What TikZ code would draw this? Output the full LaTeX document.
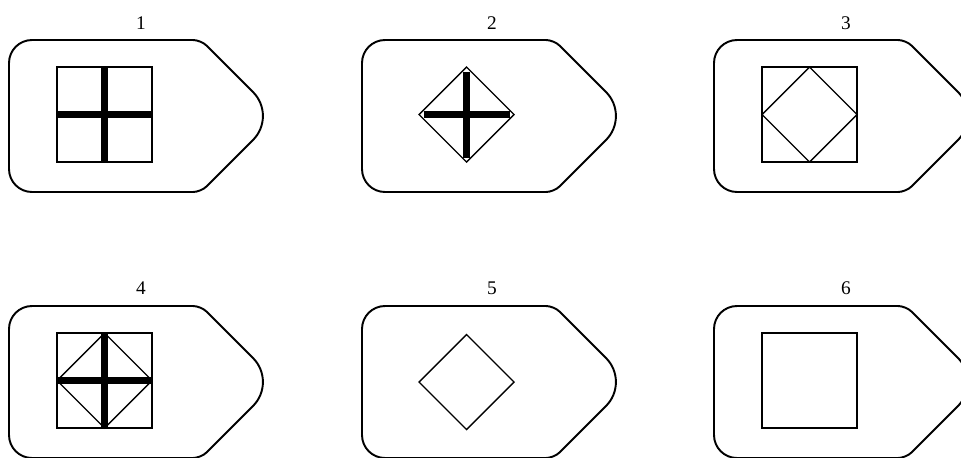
\documentclass[tikz,border=0pt]{standalone}
\usepackage{fontspec}
\setmainfont{Liberation Serif}
\usetikzlibrary{positioning}

\tikzset{
  tagline/.style={line width=1.1pt, line join=round},
  thinline/.style={line width=0.8pt},
  crossline/.style={line width=4pt},
  numlabel/.style={font=\fontsize{11}{13}\selectfont, inner sep=0pt}
}

% tag outline, origin at its upper left corner
\newcommand{\tagoutline}{%
  \draw[tagline] (0,76) [rounded corners=0.46cm] -- (0,0)
    [rounded corners=0.16cm] -- (192,0)
    [rounded corners=0.68cm] -- (268,76)
    [rounded corners=0.16cm] -- (192,152)
    [rounded corners=0.46cm] -- (0,152) -- cycle;}
\newcommand{\sqbox}{\draw[thinline] (48,27) rectangle (143,122);}
\newcommand{\diabox}[2]{\draw[thinline] ({#1-47.5},#2) -- (#1,{#2-47.5})
  -- ({#1+47.5},#2) -- (#1,{#2+47.5}) -- cycle;}
\newcommand{\crossbar}[3]{\draw[crossline] ({#1-#3},#2) -- ({#1+#3},#2)
  (#1,{#2-#3}) -- (#1,{#2+#3});}

\begin{document}
\begin{tikzpicture}[x=0.02cm, y=-0.02cm]

\useasboundingbox (0,0) rectangle (961,457);
\clip (0,0) rectangle (961,457);

%---------------------------------------
% Top row
%---------------------------------------
\begin{scope}[shift={(9,40)}]
  \node[numlabel] (lab1) at (132,-17) {1};
  \tagoutline
  \sqbox
  \crossbar{95.5}{74.5}{47.5}
\end{scope}

\begin{scope}[shift={(362,40)}]
  \node[numlabel] (lab2) at (130,-17) {2};
  \tagoutline
  \crossbar{104.5}{74.5}{43}
  \diabox{104.5}{74.5}
\end{scope}

\begin{scope}[shift={(714,40)}]
  \node[numlabel] (lab3) at (132,-17) {3};
  \tagoutline
  \sqbox
  \diabox{95.5}{74.5}
\end{scope}

%---------------------------------------
% Bottom row
%---------------------------------------
\begin{scope}[shift={(9,306)}]
  \node[numlabel] (lab4) at (132,-18) {4};
  \tagoutline
  \sqbox
  \diabox{95.5}{74.5}
  \crossbar{95.5}{74.5}{47.5}
\end{scope}

\begin{scope}[shift={(362,306)}]
  \node[numlabel] (lab5) at (130,-18) {5};
  \tagoutline
  \diabox{104.5}{76}
\end{scope}

\begin{scope}[shift={(714,306)}]
  \node[numlabel] (lab6) at (132,-18) {6};
  \tagoutline
  \sqbox
\end{scope}

\end{tikzpicture}
\end{document}
